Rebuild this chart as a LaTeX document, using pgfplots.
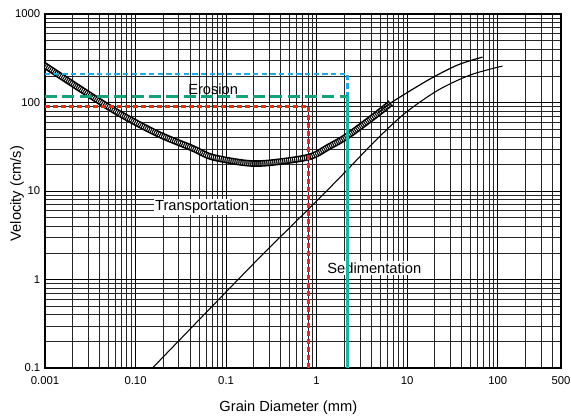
\documentclass[border=0pt]{standalone}
\usepackage{fontspec}
\setmainfont{Liberation Sans}
\usepackage{pgfplots}
\pgfplotsset{compat=1.18}
\definecolor{cyanline}{RGB}{30,170,230}
\definecolor{greenline}{RGB}{20,160,120}
\definecolor{tealline}{RGB}{30,180,165}
\definecolor{redline}{RGB}{220,45,30}

\begin{document}
\begin{tikzpicture}
\begin{axis}[
  width=387pt, height=265.5pt, scale only axis,
  xmode=log, ymode=log,
  xmin=0.001, xmax=500, ymin=0.1, ymax=1000,
  xtick={0.001,0.01,0.1,1,10,100,500},
  xticklabels={0.001,0.10,0.1,1,10,100,500},
  ytick={0.1,1,10,100,1000},
  yticklabels={0.1,1,10,100,1000},
  minor xtick={0.002,0.003,0.004,0.005,0.006,0.007,0.008,0.009,
    0.02,0.03,0.04,0.05,0.06,0.07,0.08,0.09,
    0.2,0.3,0.4,0.5,0.6,0.7,0.8,0.9,
    2,3,4,5,6,7,8,9,20,30,40,50,60,70,80,90,200,300,400},
  minor ytick={0.2,0.3,0.4,0.5,0.6,0.7,0.8,0.9,
    2,3,4,5,6,7,8,9,20,30,40,50,60,70,80,90,200,300,400,500,600,700,800,900},
  grid=both,
  major grid style={black, line width=0.6pt},
  minor grid style={black!85, line width=0.4pt},
  major tick length=0pt, minor tick length=0pt,
  axis line style={black, line width=0.8pt},
  tick label style={font=\fontsize{8.5}{10}\selectfont},
  xticklabel style={yshift=-3pt},
  label style={font=\fontsize{11}{13}\selectfont},
  xlabel={Grain Diameter (mm)},
  ylabel={Velocity (cm/s)},
  xlabel style={at={(axis description cs:0.5,0)}, anchor=center, yshift=-30pt, xshift=-11pt},
  ylabel style={at={(axis description cs:0,0.5)}, anchor=center, yshift=21pt, xshift=-2pt},
]
\coordinate (O) at (rel axis cs:0,0);

% text labels (white boxes hide the grid)
\node[fill=white, inner sep=1pt, font=\fontsize{11}{13}\selectfont] at (axis cs:0.0544,6.6) {Transportation};
\node[fill=white, inner sep=1pt, font=\fontsize{11}{13}\selectfont] at (axis cs:4.34,1.35) {Sedimentation};

% erosion band
\addplot[black, line width=5pt, smooth] coordinates {
  (0.0009,280)(0.0052,87)(0.017,45)(0.042,30.6)(0.070,24.2)(0.166,20.7)
  (0.30,20.8)(0.82,24.2)(1.35,31.4)(2.2,42)(4.8,76)(6.6,99)
};
\addplot[white, line width=2.6pt, smooth, dash pattern=on 0.5pt off 1pt] coordinates {
  (0.0009,280)(0.0052,87)(0.017,45)(0.042,30.6)(0.070,24.2)(0.166,20.7)
  (0.30,20.8)(0.82,24.2)(1.35,31.4)(2.2,42)(4.8,76)(6.6,99)
};
\addplot[black, line width=0.9pt, smooth] coordinates {
  (4.8,76)(6.6,99)(17,179)(36,265)(68,326)
};

% sedimentation curve
\addplot[black, line width=0.8pt, smooth] coordinates {
  (0.0154,0.1)(0.2,1.5)(1,7.7)(2.2,17.5)(4.45,37)(9.5,76)(22,138)(50,205)(113,258)
};

% coloured threshold lines
\addplot[cyanline, line width=2.2pt, dash pattern=on 4pt off 2.5pt] coordinates {
  (0.001,210)(2.2,210)(2.2,118)
};
\addplot[greenline, line width=2.2pt, dash pattern=on 9pt off 4pt] coordinates {
  (0.001,118)(2.2,118)
};
\addplot[tealline, line width=1.8pt] coordinates {(2.2,118)(2.2,0.1)};
\addplot[redline, line width=2.2pt, dash pattern=on 4pt off 2pt] coordinates {
  (0.001,90)(0.82,90)(0.82,0.1)
};

\node[font=\fontsize{11}{13}\selectfont] at (axis cs:0.072,140) {Erosion};
\end{axis}
\pgfresetboundingbox
\path (O) ++(-33.75pt,-36.75pt) rectangle ++(428.25pt,312.75pt);
\end{tikzpicture}
\end{document}
